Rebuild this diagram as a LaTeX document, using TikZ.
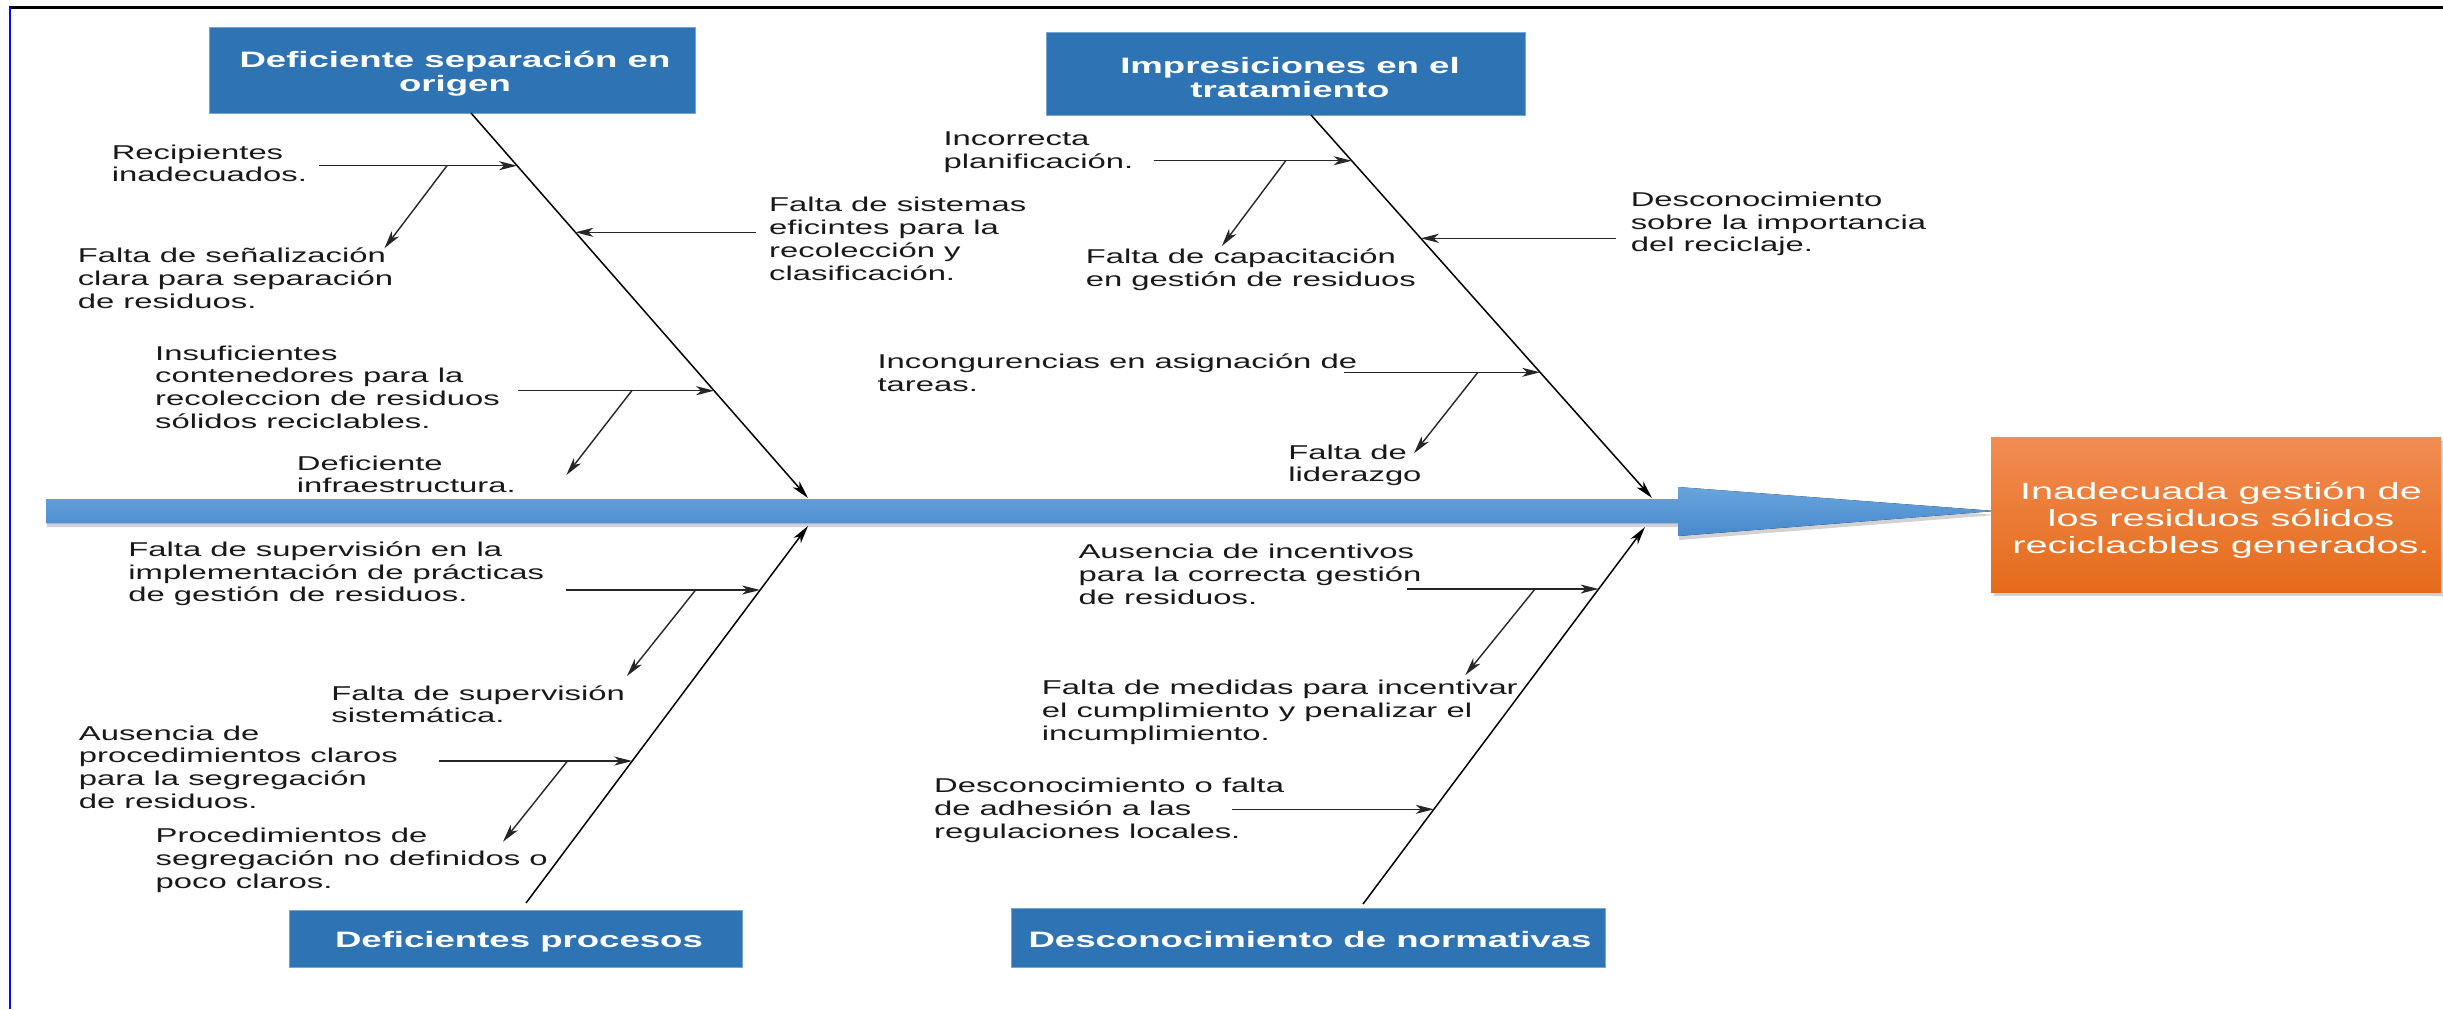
\documentclass[tikz,border=0pt]{standalone}
\usepackage{fontspec}
\setmainfont{Liberation Sans}[FakeStretch=1.64]
\newfontfamily\orfont{Liberation Sans}[FakeStretch=1.69]
\usetikzlibrary{arrows.meta,shadows}
\definecolor{boxblue}{RGB}{46,116,181}
\definecolor{spinetop}{RGB}{104,165,222}
\definecolor{spinebot}{RGB}{72,136,204}
\definecolor{ortop}{RGB}{241,140,82}
\definecolor{orbot}{RGB}{229,107,26}
\definecolor{txt}{RGB}{25,25,25}
\definecolor{frameblue}{RGB}{10,10,235}
\begin{document}
\begin{tikzpicture}[x=0.5pt,y=-0.5pt,
  catbox/.style={draw=boxblue!65!white, line width=0.4pt, fill=boxblue, inner sep=0pt},
  cattext/.style={text=white, font=\fontsize{11.15}{12}\selectfont\bfseries, align=center, inner sep=0pt, anchor=base},
  orbox/.style={top color=ortop, bottom color=orbot, draw=none, inner sep=0pt,
    drop shadow={shadow xshift=1.5pt, shadow yshift=-2pt, opacity=0.35}},
  ortext/.style={text=white, font=\orfont\fontsize{11.75}{13.5}\selectfont, align=center, inner sep=0pt, anchor=base},
  lbl/.style={font=\fontsize{10}{11.35}\selectfont, text=txt, align=left, inner sep=0pt, anchor=base west},
  bone/.style={line width=0.75pt, draw=black, -{Stealth[length=9pt,width=4.5pt,inset=2.5pt]}},
  sub/.style={line width=0.7pt, draw=black!85, -{Stealth[length=9pt,width=4.5pt,inset=2.5pt]}},
]
\useasboundingbox (0,0) rectangle (2443,1009);
\fill[white] (0,0) rectangle (2443,1009);
% frame
\draw[line width=1.5pt, black] (9,7) -- (2443,7);
\draw[line width=1.1pt, frameblue] (10,7) -- (10,1009);

% spine
\fill[top color=spinetop, bottom color=spinebot,
  drop shadow={shadow xshift=0.5pt, shadow yshift=-2pt, opacity=0.35}]
  (46,499) -- (1678,499) -- (1678,487) -- (1995,511) -- (1678,536) -- (1678,523) -- (46,523) -- cycle;

% effect box
\node[orbox, minimum width=225pt, minimum height=77.5pt] (eff) at (2216,514.5) {};
\node[ortext] (efftext) at (2221,553) {Inadecuada gestión de\\los residuos sólidos\\reciclacbles generados.};

% category boxes
\node[catbox, minimum width=243pt, minimum height=43pt] (c1) at (452,70) {};
\node[catbox, minimum width=239.5pt, minimum height=41.5pt] (c2) at (1285.5,73.5) {};
\node[catbox, minimum width=226.5pt, minimum height=28.5pt] (c3) at (515.5,938.5) {};
\node[catbox, minimum width=297pt, minimum height=29.5pt] (c4) at (1308,937.5) {};
\node[cattext] (c1t) at (455,91) {Deficiente separación en\\origen};
\node[cattext] (c2t) at (1290,97) {Impresiciones en el\\tratamiento};
\node[cattext] (c3t) at (519,947) {Deficientes procesos};
\node[cattext] (c4t) at (1310,947.3) {Desconocimiento de normativas};

% bones
\coordinate (b1s) at (471,113);  \coordinate (b1e) at (808,498);
\coordinate (b2s) at (1311,115); \coordinate (b2e) at (1652,498);
\coordinate (b3s) at (526,903);  \coordinate (b3e) at (808,526);
\coordinate (b4s) at (1363,904); \coordinate (b4e) at (1645,527);
\draw[bone] (b1s) -- (b1e);
\draw[bone] (b2s) -- (b2e);
\draw[bone] (b3s) -- (b3e);
\draw[bone] (b4s) -- (b4e);

% sub-causes, bone 1
\coordinate (r1t) at (319,165.7);   \coordinate (r1h) at (517.1,165.7);
\coordinate (d1s) at (447,165.7);   \coordinate (d1e) at (384.4,248.3);
\coordinate (r2t) at (755.7,232.3); \coordinate (r2h) at (575.3,232.3);
\coordinate (r3t) at (517.8,390.7); \coordinate (r3h) at (714.1,390.7);
\coordinate (d3s) at (631.8,390.7); \coordinate (d3e) at (566.4,475);
\draw[sub] (r1t) -- (r1h);
\draw[sub] (d1s) -- (d1e);
\draw[sub] (r2t) -- (r2h);
\draw[sub] (r3t) -- (r3h);
\draw[sub] (d3s) -- (d3e);

% bone 3
\coordinate (r4t) at (566.4,590);  \coordinate (r4h) at (760.1,590);
\coordinate (d4s) at (695.6,590);  \coordinate (d4e) at (627,676);
\coordinate (r5t) at (439.3,761);  \coordinate (r5h) at (632.2,761);
\coordinate (d5s) at (567.5,761);  \coordinate (d5e) at (503,841.7);
\draw[sub] (r4t) -- (r4h);
\draw[sub] (d4s) -- (d4e);
\draw[sub] (r5t) -- (r5h);
\draw[sub] (d5s) -- (d5e);

% bone 2
\coordinate (r6t) at (1153.7,160.7); \coordinate (r6h) at (1351.7,160.7);
\coordinate (d6s) at (1285.7,160.7); \coordinate (d6e) at (1221.9,246);
\coordinate (r7t) at (1615.7,238.3); \coordinate (r7h) at (1420.8,238.3);
\coordinate (r8t) at (1344.4,372.3); \coordinate (r8h) at (1540.1,372.3);
\coordinate (d8s) at (1477.9,372.3); \coordinate (d8e) at (1414,453.3);
\draw[sub] (r6t) -- (r6h);
\draw[sub] (d6s) -- (d6e);
\draw[sub] (r7t) -- (r7h);
\draw[sub] (r8t) -- (r8h);
\draw[sub] (d8s) -- (d8e);

% bone 4
\coordinate (r9t) at (1406.7,589);  \coordinate (r9h) at (1598.6,589);
\coordinate (d9s) at (1535,589);    \coordinate (d9e) at (1465.4,675);
\coordinate (r10t) at (1232.2,809.3); \coordinate (r10h) at (1433.8,809.3);
\draw[sub] (r9t) -- (r9h);
\draw[sub] (d9s) -- (d9e);
\draw[sub] (r10t) -- (r10h);

% labels (anchored at the baseline of their last line)
\node[lbl] (l1) at (111.4,181.7) {Recipientes\\inadecuados.};
\node[lbl] (l2) at (77.4,308) {Falta de señalización\\clara para separación\\de residuos.};
\node[lbl] (l3) at (768.8,280) {Falta de sistemas\\eficintes para la\\recolección y\\clasificación.};
\node[lbl] (l4) at (154.8,428.3) {Insuficientes\\contenedores para la\\recoleccion de residuos\\sólidos reciclables.};
\node[lbl] (l5) at (296.5,492.7) {Deficiente\\infraestructura.};
\node[lbl] (l6) at (128,601.7) {Falta de supervisión en la\\implementación de prácticas\\de gestión de residuos.};
\node[lbl] (l7) at (331,722.7) {Falta de supervisión\\sistemática.};
\node[lbl] (l8) at (78.5,808.3) {Ausencia de\\procedimientos claros\\para la segregación\\de residuos.};
\node[lbl] (l9) at (155.3,888.3) {Procedimientos de\\segregación no definidos o\\poco claros.};
\node[lbl] (l10) at (943.2,168.3) {Incorrecta\\planificación.};
\node[lbl] (l11) at (1085.5,286) {Falta de capacitación\\en gestión de residuos};
\node[lbl] (l12) at (1630.4,251.7) {Desconocimiento\\sobre la importancia\\del reciclaje.};
\node[lbl] (l13) at (877.2,391) {Incongurencias en asignación de\\tareas.};
\node[lbl] (l14) at (1288,481.7) {Falta de\\liderazgo};
\node[lbl] (l15) at (1078.2,604) {Ausencia de incentivos\\para la correcta gestión\\de residuos.};
\node[lbl] (l16) at (1041.5,740) {Falta de medidas para incentivar\\el cumplimiento y penalizar el\\incumplimiento.};
\node[lbl] (l17) at (933.7,838.3) {Desconocimiento o falta\\de adhesión a las\\regulaciones locales.};
\end{tikzpicture}
\end{document}
